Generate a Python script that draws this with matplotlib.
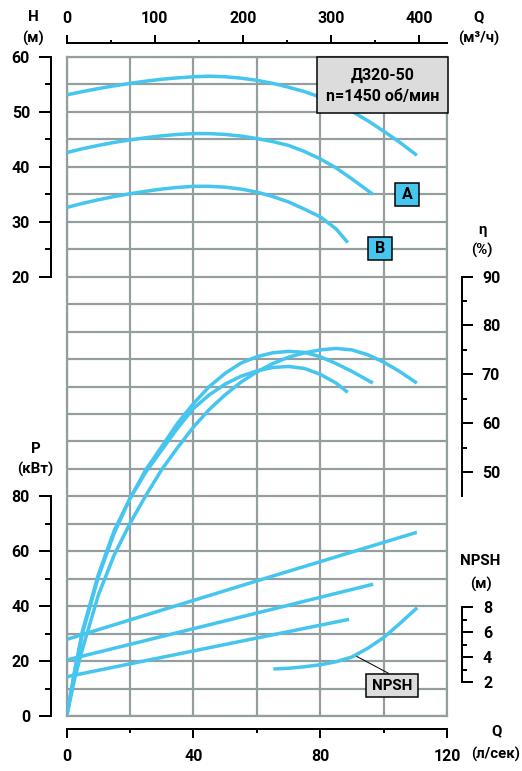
import matplotlib.pyplot as plt
from matplotlib.patches import Rectangle

W, H = 522, 771

# --- data (Q in l/s) ---
q_h_a = [0, 5, 10, 15, 20, 25, 30, 35, 40, 45, 50, 55, 60, 65, 70, 75, 80,
         85, 90, 95, 100, 105, 110.5]
h_a = [53.1, 53.7, 54.25, 54.75, 55.2, 55.6, 55.95, 56.2, 56.4, 56.5, 56.4,
       56.15, 55.75, 55.2, 54.5, 53.7, 52.7, 51.5, 50.1, 48.4, 46.5, 44.5, 42.1]
q_h_b = [0, 5, 10, 15, 20, 25, 30, 35, 40, 45, 50, 55, 60, 65, 70, 75, 80,
         85, 90, 96.6]
h_b = [42.6, 43.3, 43.9, 44.45, 44.9, 45.3, 45.65, 45.9, 46.05, 46.05, 45.9,
       45.6, 45.15, 44.6, 43.9, 42.8, 41.45, 39.8, 37.8, 35.0]
q_h_c = [0, 5, 10, 15, 20, 25, 30, 35, 40, 45, 50, 55, 60, 65, 70, 75, 80,
         85, 88.7]
h_c = [32.6, 33.35, 34.0, 34.6, 35.1, 35.55, 35.95, 36.25, 36.45, 36.45, 36.3,
       35.95, 35.4, 34.6, 33.6, 32.3, 30.9, 28.7, 26.2]

q_eta_a = [0, 2.5, 5, 10, 15, 20, 25, 30, 35, 40, 45, 50, 55, 60, 65, 70, 75,
           80, 85, 90, 95, 100, 105, 110.5]
eta_a = [0, 7.6, 13.8, 24.8, 33, 39.5, 45.2, 50.5, 55, 59.2, 62.8, 65.8, 68.4,
         70.5, 72.2, 73.5, 74.4, 75.0, 75.3, 75.0, 74.0, 72.5, 70.6, 68.2]
q_eta_b = [0, 2.5, 5, 10, 15, 20, 25, 30, 35, 40, 45, 50, 55, 60, 65, 70, 75,
           80, 85, 90, 96.6]
eta_b = [0, 9, 17, 28.5, 37.5, 44.6, 50.5, 55.2, 60, 64.0, 67.5, 70.2, 72.3,
         73.6, 74.4, 74.7, 74.5, 73.6, 72.2, 70.6, 68.2]
q_eta_c = [0, 2.5, 5, 10, 15, 20, 25, 30, 35, 40, 45, 50, 55, 60, 65, 70, 75,
           80, 85, 88.7]
eta_c = [0, 9.2, 17.5, 29, 38, 44.6, 50, 54.5, 59, 63, 65.8, 68, 69.6, 70.7,
         71.4, 71.6, 71.2, 70.0, 68.2, 66.3]

q_p_a = [0, 60, 110.5]
p_a = [27.9, 49.2, 66.9]
q_p_b = [0, 60, 96.7]
p_b = [20.4, 37.5, 48.0]
q_p_c = [0, 60, 89.1]
p_c = [14.3, 28.4, 35.2]

q_npsh = [65.2, 70, 75, 80, 85, 90, 95, 100, 105, 110.6]
npsh = [3.04, 3.1, 3.22, 3.38, 3.62, 4.0, 4.7, 5.55, 6.65, 7.95]

h_ticks = [20, 30, 40, 50, 60]
p_ticks = [0, 20, 40, 60, 80]
eta_ticks = [50, 60, 70, 80, 90]
npsh_ticks = [2, 4, 6, 8]
q_ls_ticks = [0, 40, 80, 120]
q_m3_ticks = [0, 100, 200, 300, 400]

BLUE = '#46c6ef'
GRID = '#959e9f'

plt.rcParams['font.family'] = ['Roboto', 'DejaVu Sans']
plt.rcParams['font.weight'] = 'bold'
plt.rcParams['font.size'] = 16

fig = plt.figure(figsize=(W / 72, H / 72), dpi=72)
rect = [66.7 / W, 55 / H, 380.3 / W, 659 / H]


def overlay(ylim, xlim=(0, 120)):
    a = fig.add_axes(rect, facecolor='none')
    a.set_xlim(*xlim)
    a.set_ylim(*ylim)
    for s in a.spines.values():
        s.set_visible(False)
    a.set_xticks([])
    a.set_yticks([])
    return a


# grid background
ax_grid = fig.add_axes(rect)
ax_grid.set_xlim(0, 120)
ax_grid.set_ylim(0, 240)
ax_grid.set_xticks(range(0, 121, 20))
ax_grid.set_yticks(range(0, 241, 10))
ax_grid.grid(True, color=GRID, lw=2.2)
ax_grid.tick_params(length=0, labelbottom=False, labelleft=False)
for s in ax_grid.spines.values():
    s.set_color(GRID)
    s.set_linewidth(2.2)

# power + bottom Q axis
ax_p = overlay((0, 240))
ax_p.spines['left'].set_visible(True)
ax_p.spines['left'].set_position(('outward', 15.7))
ax_p.spines['left'].set_bounds(0, 80)
ax_p.spines['left'].set_linewidth(2)
ax_p.set_yticks(p_ticks)
ax_p.set_yticks([10, 30, 50, 70], minor=True)
ax_p.tick_params(axis='y', which='major', length=12, width=2, pad=9)
ax_p.tick_params(axis='y', which='minor', length=6, width=2)
ax_p.spines['bottom'].set_visible(True)
ax_p.spines['bottom'].set_position(('outward', 13))
ax_p.spines['bottom'].set_bounds(0, 120)
ax_p.spines['bottom'].set_linewidth(2)
ax_p.set_xticks(q_ls_ticks)
ax_p.set_xticks([20, 60, 100], minor=True)
ax_p.tick_params(axis='x', which='major', length=9, width=2, pad=11)
ax_p.tick_params(axis='x', which='minor', length=4, width=2)
for q, p in [(q_p_a, p_a), (q_p_b, p_b), (q_p_c, p_c)]:
    ax_p.plot(q, p, color=BLUE, lw=3.5, solid_capstyle='butt')

# head axis
ax_h = overlay((-60, 60))
ax_h.spines['left'].set_visible(True)
ax_h.spines['left'].set_position(('outward', 15.7))
ax_h.spines['left'].set_bounds(20, 60)
ax_h.spines['left'].set_linewidth(2)
ax_h.set_yticks(h_ticks)
ax_h.set_yticks([25, 35, 45, 55], minor=True)
ax_h.tick_params(axis='y', which='major', length=12, width=2, pad=9)
ax_h.tick_params(axis='y', which='minor', length=6, width=2)
for q, h in [(q_h_a, h_a), (q_h_b, h_b), (q_h_c, h_c)]:
    ax_h.plot(q, h, color=BLUE, lw=3.5, solid_capstyle='butt',
              solid_joinstyle='round')

# efficiency axis
ax_eta = overlay((0, 135))
ax_eta.spines['right'].set_visible(True)
ax_eta.spines['right'].set_position(('outward', 15))
ax_eta.spines['right'].set_bounds(45, 90)
ax_eta.spines['right'].set_linewidth(2)
ax_eta.yaxis.set_ticks_position('right')
ax_eta.set_yticks(eta_ticks)
ax_eta.set_yticks([55, 65, 75, 85], minor=True)
ax_eta.tick_params(axis='y', which='major', length=11, width=2, pad=9)
ax_eta.tick_params(axis='y', which='minor', length=5, width=2)
for q, e in [(q_eta_a, eta_a), (q_eta_b, eta_b), (q_eta_c, eta_c)]:
    ax_eta.plot(q, e, color=BLUE, lw=3.5, solid_capstyle='butt',
                solid_joinstyle='round')

# NPSH axis
ax_n = overlay((-0.72, 52))
ax_n.spines['right'].set_visible(True)
ax_n.spines['right'].set_position(('outward', 15))
ax_n.spines['right'].set_bounds(2, 8)
ax_n.spines['right'].set_linewidth(2)
ax_n.yaxis.set_ticks_position('right')
ax_n.set_yticks(npsh_ticks)
ax_n.set_yticks([3, 5, 7], minor=True)
ax_n.tick_params(axis='y', which='major', length=11, width=2, pad=10)
ax_n.tick_params(axis='y', which='minor', length=5, width=2)
ax_n.plot(q_npsh, npsh, color=BLUE, lw=3.5, solid_capstyle='butt',
          solid_joinstyle='round')
ax_n.plot([91.5, 101.5], [4.05, 2.7], color='black', lw=1)
ax_n.add_patch(Rectangle((94.4, 0.8), 16.4, 1.84, fc='#dcdcdc', ec='black',
                         lw=1.5, clip_on=False, zorder=5))
ax_n.text(102.6, 1.72, 'NPSH', ha='center', va='center', fontsize=15, zorder=6)

# top Q axis (m3/h)
ax_top = overlay((0, 1), xlim=(0, 432))
ax_top.spines['top'].set_visible(True)
ax_top.spines['top'].set_position(('outward', 14))
ax_top.spines['top'].set_bounds(0, 432)
ax_top.spines['top'].set_linewidth(2)
ax_top.xaxis.set_ticks_position('top')
ax_top.set_xticks(q_m3_ticks)
ax_top.set_xticks([50, 150, 250, 350], minor=True)
ax_top.tick_params(axis='x', which='major', length=8, width=2, pad=9)
ax_top.tick_params(axis='x', which='minor', length=3, width=2)

# title box and curve labels
ax_h.add_patch(Rectangle((79, 49.8), 41.3, 10.2, fc='#dcdcdc', ec='black',
                         lw=1.5, clip_on=False, zorder=5))
ax_h.text(99.7, 56.7, 'Д320-50', ha='center', va='center', fontsize=16, zorder=6)
ax_h.text(99.7, 52.8, 'n=1450 об/мин', ha='center', va='center', fontsize=16,
          zorder=6)
for label, x0, y0 in [('A', 103.6, 32.9), ('B', 95.0, 23.1)]:
    ax_h.add_patch(Rectangle((x0, y0), 7.6, 4.1, fc=BLUE, ec='black', lw=1.5,
                             clip_on=False, zorder=5))
    ax_h.text(x0 + 3.8, y0 + 2.0, label, ha='center', va='center',
              fontsize=16, zorder=6)


def ftext(x, y, s):
    fig.text(x / W, 1 - y / H, s, ha='center', va='center', fontsize=15)


ftext(33, 17, 'H')
ftext(33, 38, '(м)')
ftext(479, 17, 'Q')
ftext(479, 38, '(м³/ч)')
ftext(482, 230, 'η')
ftext(482, 250, '(%)')
ftext(36, 449, 'P')
ftext(35, 469, '(кВт)')
ftext(480, 561, 'NPSH')
ftext(481, 584, '(м)')
ftext(497, 731, 'Q')
ftext(496, 754, '(л/сек)')

fig.savefig('out.png', dpi=72)
